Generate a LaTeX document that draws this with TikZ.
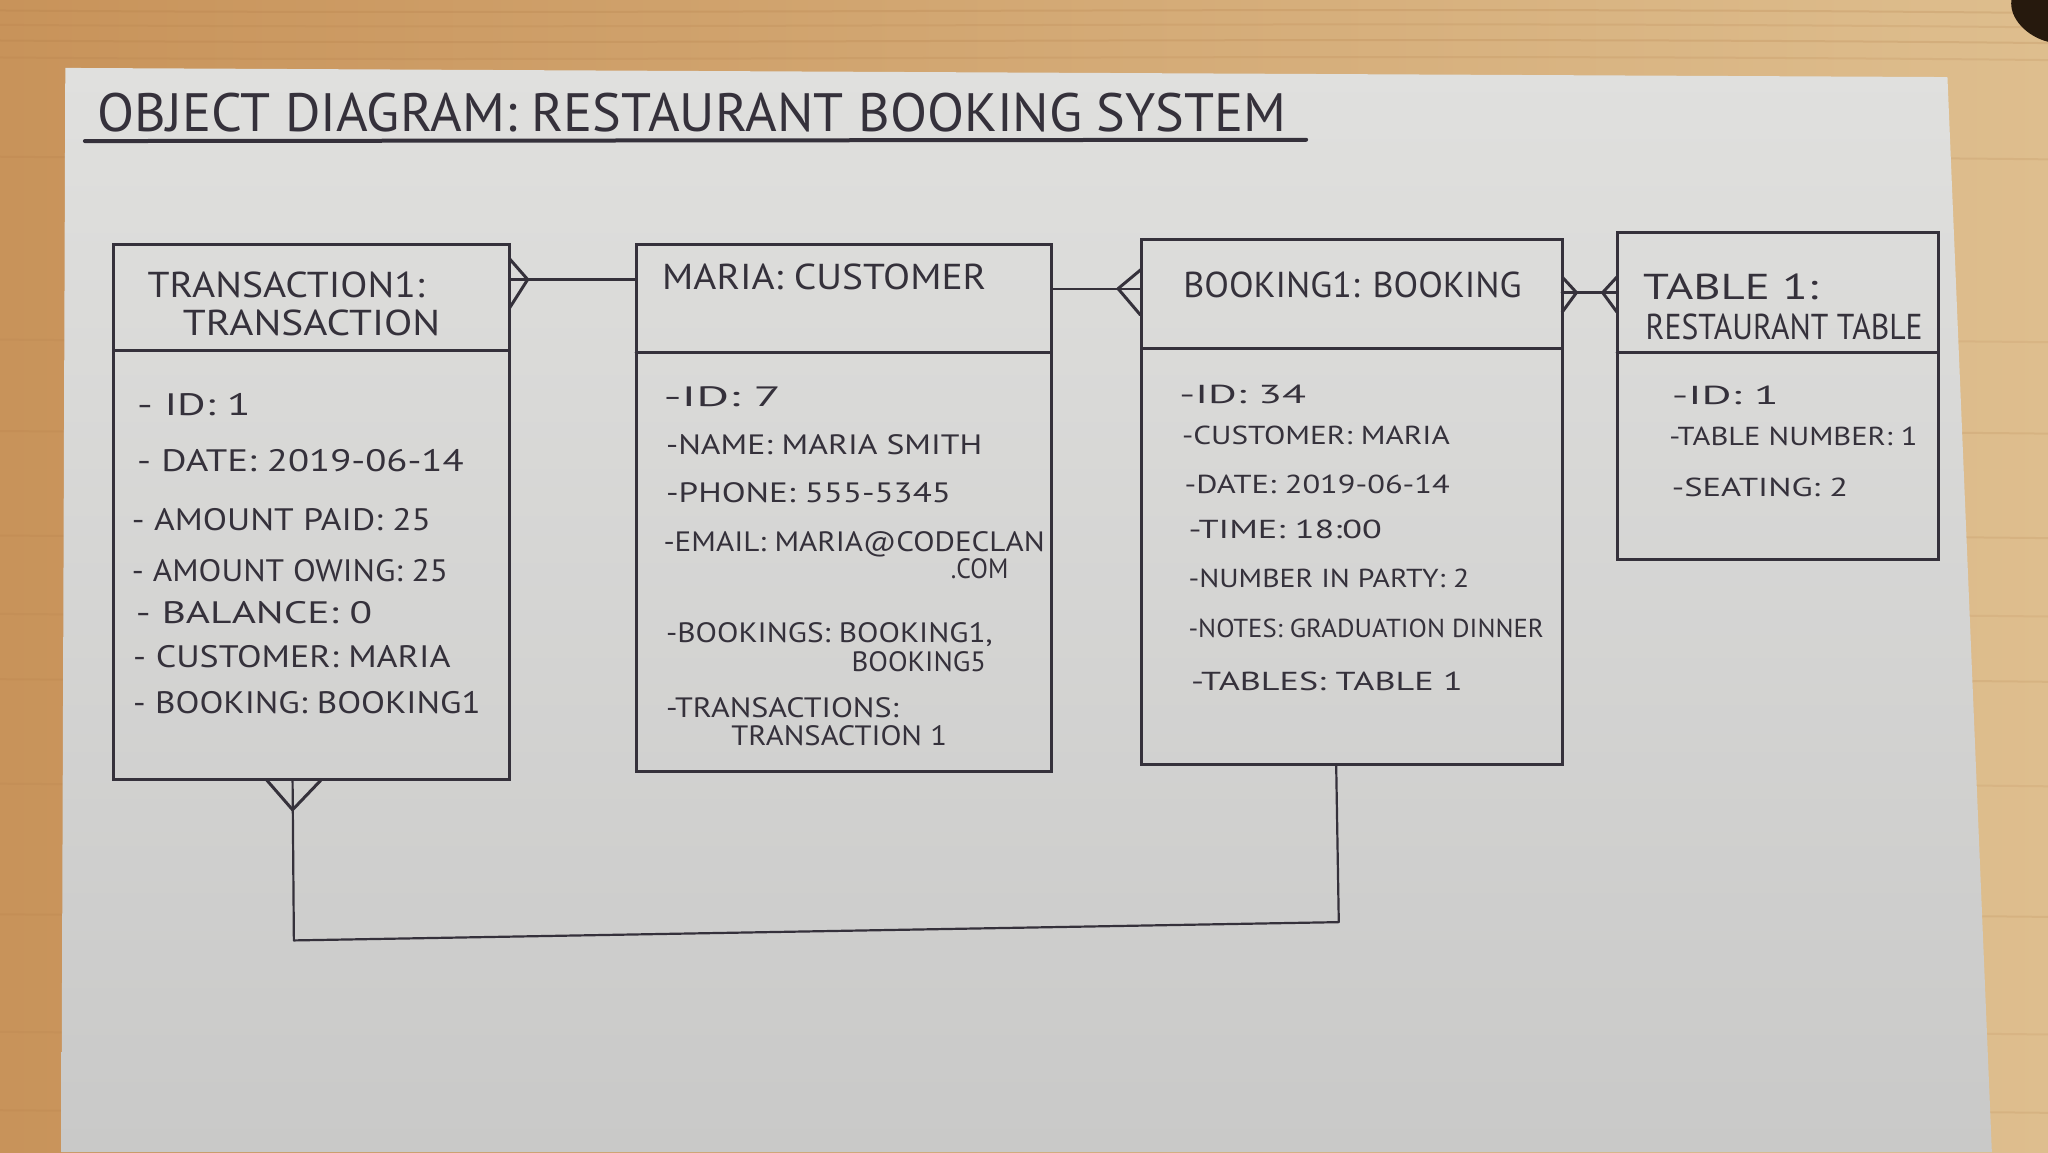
\documentclass[tikz,border=0pt]{standalone}
\usepackage{fontspec}
\setmainfont{PT Sans}
\usetikzlibrary{calc}

\definecolor{ink}{HTML}{35313B}
\definecolor{woodA}{HTML}{C8935A}
\definecolor{woodB}{HTML}{DEBE8E}
\definecolor{grain}{HTML}{AE7843}
\definecolor{paperT}{HTML}{E0E0DE}
\definecolor{paperB}{HTML}{C9C9C8}

% one drawing unit
\newdimen\pxu \pxu=0.65306pt
% stretch a text horizontally to a given width in drawing units
\newcommand\fitw[2]{\resizebox{#1\pxu}{\height}{#2}}

\tikzset{
  ink line/.style={draw=ink, line width=1.5pt, line cap=round, line join=round},
  thin ink/.style={draw=ink, line width=1.1pt, line cap=round, line join=round},
  objbox/.style={rectangle, draw=ink, line width=1.5pt, inner sep=0pt, outer sep=0pt, anchor=north west},
  txt/.style={inner sep=0pt, outer sep=0pt, anchor=base west, text=ink},
  titlefont/.style={txt, font=\fontsize{27}{31}\selectfont},
  headfont/.style={txt, font=\fontsize{18}{22}\selectfont},
  bigattr/.style={txt, font=\fontsize{15.5}{18}\selectfont},
  attr/.style={txt, font=\fontsize{14}{17}\selectfont},
  smallattr/.style={txt, font=\fontsize{13}{16}\selectfont},
}

\begin{document}
\begin{tikzpicture}[x=0.65306pt, y=-0.65306pt]
\useasboundingbox (0,0) rectangle (1568,882);

% table top
\shade[left color=woodA, right color=woodB] (0,0) rectangle (1568,882);
\foreach \gy/\ga in {8/0.2,19/0.15,31/0.2,44/0.15,120/0.15,260/0.12,330/0.15,410/0.15,470/0.12,520/0.15,600/0.12,700/0.15,790/0.12,850/0.15}
  \draw[grain, opacity=\ga, line width=1pt] (0,\gy) .. controls (500,\gy+4) and (1000,\gy-4) .. (1568,\gy+2);
\fill[black!80!brown] (1568,0) -- (1540,0) .. controls (1538,14) and (1552,28) .. (1568,32) -- cycle;

% sheet of paper
\shade[top color=paperT, bottom color=paperB] (50,52) -- (1491,59) -- (1525,882) -- (47,882) -- cycle;

% title
\node[titlefont] (title) at (75,101) {\fitw{910}{OBJECT DIAGRAM: RESTAURANT BOOKING SYSTEM}};
\draw[draw=ink, line width=2pt, line cap=round] (65,108) -- (1000,107);

% object boxes
\node[objbox, minimum width={303*\pxu}, minimum height={410*\pxu}] (tr) at (87,187) {};
\node[objbox, minimum width={318*\pxu}, minimum height={404*\pxu}] (cu) at (487,187) {};
\node[objbox, minimum width={322*\pxu}, minimum height={402*\pxu}] (bk) at (874,183) {};
\node[objbox, minimum width={246*\pxu}, minimum height={250*\pxu}] (tb) at (1238,178) {};

% header separators
\coordinate (s1) at (0,268);
\coordinate (s2) at (0,270);
\coordinate (s3) at (0,267);
\coordinate (s4) at (0,270);
\draw[ink line] (tr.west |- s1) -- (tr.east |- s1);
\draw[ink line] (cu.west |- s2) -- (cu.east |- s2);
\draw[ink line] (bk.west |- s3) -- (bk.east |- s3);
\draw[ink line] (tb.west |- s4) -- (tb.east |- s4);

% transaction1 : transaction
\node[headfont] (trh1) at (113,228) {\fitw{212}{TRANSACTION1:}};
\node[headfont] (trh2) at (140,257) {\fitw{197}{TRANSACTION}};
\node[bigattr] (tra1) at (105,318) {\fitw{87}{- ID: 1}};
\node[bigattr] (tra2) at (105,361) {\fitw{250}{- DATE: 2019-06-14}};
\node[bigattr] (tra3) at (101,406) {\fitw{229}{- AMOUNT PAID: 25}};
\node[bigattr] (tra4) at (101,445) {\fitw{242}{- AMOUNT OWING: 25}};
\node[bigattr] (tra5) at (104,477) {\fitw{181}{- BALANCE: 0}};
\node[bigattr] (tra6) at (102,511) {\fitw{243}{- CUSTOMER: MARIA}};
\node[bigattr] (tra7) at (102,546) {\fitw{266}{- BOOKING: BOOKING1}};

% maria : customer
\node[headfont] (cuh1) at (507,222) {\fitw{248}{MARIA: CUSTOMER}};
\node[attr] (cua1) at (508,311) {\fitw{90}{-ID: 7}};
\node[attr] (cua2) at (510,348) {\fitw{242}{-NAME: MARIA SMITH}};
\node[attr] (cua3) at (510,385) {\fitw{218}{-PHONE: 555-5345}};
\node[attr] (cua4) at (508,422) {\fitw{292}{-EMAIL: MARIA@CODECLAN}};
\node[attr] (cua4b) at (728,443) {\fitw{44}{.COM}};
\node[attr] (cua5) at (510,492) {\fitw{250}{-BOOKINGS: BOOKING1,}};
\node[attr] (cua5b) at (652,514) {\fitw{103}{BOOKING5}};
\node[attr] (cua6) at (510,549) {\fitw{178}{-TRANSACTIONS:}};
\node[attr] (cua6b) at (560,571) {\fitw{165}{TRANSACTION 1}};

% booking1 : booking
\node[headfont] (bkh1) at (906,228) {\fitw{259}{BOOKING1: BOOKING}};
\node[smallattr] (bka1) at (903,309) {\fitw{97}{-ID: 34}};
\node[smallattr] (bka2) at (905,340) {\fitw{205}{-CUSTOMER: MARIA}};
\node[smallattr] (bka3) at (907,378) {\fitw{203}{-DATE: 2019-06-14}};
\node[smallattr] (bka4) at (910,412) {\fitw{148}{-TIME: 18:00}};
\node[smallattr] (bka5) at (910,450) {\fitw{215}{-NUMBER IN PARTY: 2}};
\node[smallattr] (bka6) at (910,488) {\fitw{272}{-NOTES: GRADUATION DINNER}};
\node[smallattr] (bka7) at (912,529) {\fitw{208}{-TABLES: TABLE 1}};

% table1 : restaurant table
\node[headfont] (tbh1) at (1258,229) {\fitw{134}{TABLE 1:}};
\node[headfont] (tbh2) at (1260,260) {\fitw{212}{RESTAURANT TABLE}};
\node[smallattr] (tba1) at (1280,310) {\fitw{82}{-ID: 1}};
\node[smallattr] (tba2) at (1278,341) {\fitw{190}{-TABLE NUMBER: 1}};
\node[smallattr] (tba3) at (1280,380) {\fitw{135}{-SEATING: 2}};

% transaction -- customer (many transactions)
\coordinate (y1) at (0,214);
\draw[thin ink] (tr.east |- y1) -- (cu.west |- y1);
\draw[ink line] ($(tr.east |- y1)+(0,-16)$) -- ($(tr.east |- y1)+(14,0)$) -- ($(tr.east |- y1)+(0,22)$);

% customer -- booking (many bookings)
\coordinate (y2) at (0,221);
\draw[thin ink] (cu.east |- y2) -- (bk.west |- y2);
\draw[ink line] ($(bk.west |- y2)+(0,-15)$) -- ($(bk.west |- y2)+(-18,0)$) -- ($(bk.west |- y2)+(-1,20)$);

% booking -- table (many to many)
\coordinate (y3) at (0,224);
\draw[ink line] (bk.east |- y3) -- (tb.west |- y3);
\draw[ink line] ($(bk.east |- y3)+(0,-12)$) -- ($(bk.east |- y3)+(11,0)$) -- ($(bk.east |- y3)+(0,15)$);
\draw[ink line] ($(tb.west |- y3)+(0,-12)$) -- ($(tb.west |- y3)+(-11,0)$) -- ($(tb.west |- y3)+(0,15)$);

% booking -- transaction (many transactions)
\coordinate (xa) at (224,0);
\coordinate (xb) at (1023,0);
\coordinate (ca) at (225,720);
\coordinate (cb) at (1025,706);
\draw[thin ink] (tr.south -| xa) -- (ca) -- (cb) -- (bk.south -| xb);
\draw[ink line] ($(tr.south -| xa)+(-20,0)$) -- ($(tr.south -| xa)+(0,23)$) -- ($(tr.south -| xa)+(22,0)$);
\end{tikzpicture}
\end{document}
